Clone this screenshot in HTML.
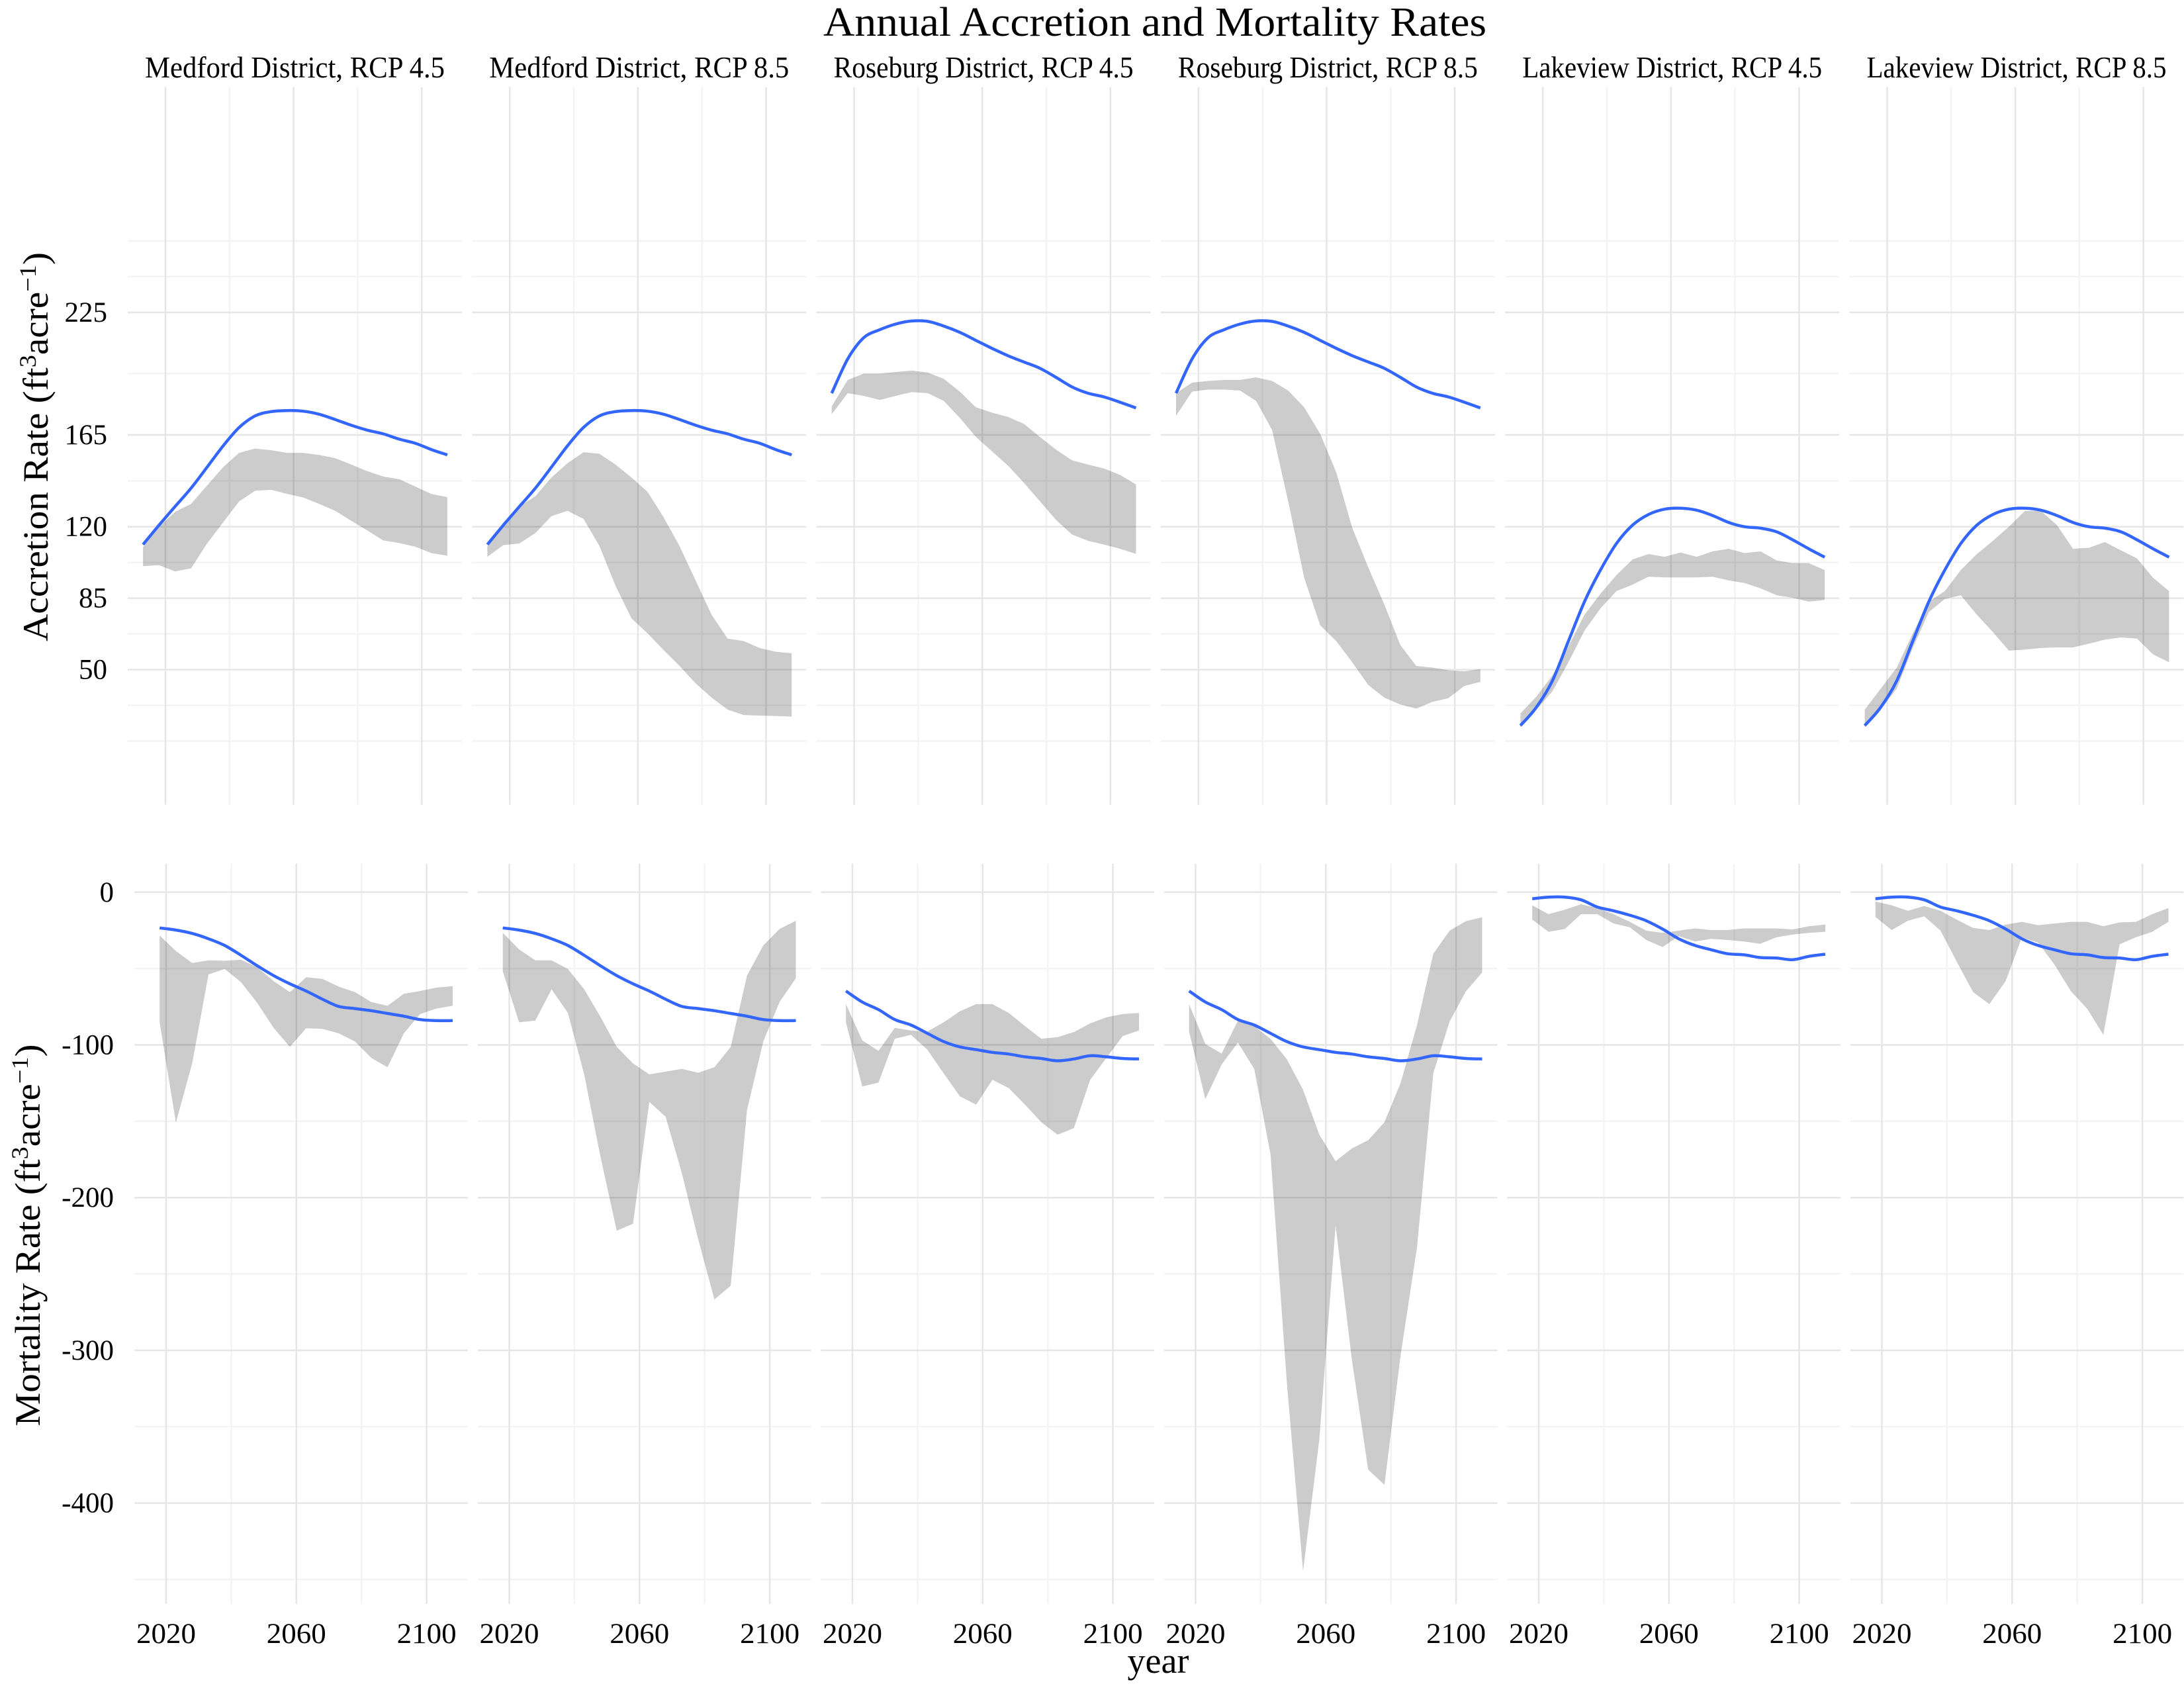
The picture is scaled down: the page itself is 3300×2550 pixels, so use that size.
<!DOCTYPE html>
<html><head><meta charset="utf-8">
<style>
html,body{margin:0;padding:0;background:#fff;}
svg{display:block;font-family:"Liberation Serif",serif;}
</style></head>
<body>
<svg id="chart" xmlns="http://www.w3.org/2000/svg" width="3300" height="2550" viewBox="0 0 3300 2550">
<rect x="0" y="0" width="3300" height="2550" fill="#fff"/>
<text x="1745" y="54" font-size="62" text-anchor="middle" textLength="1002" lengthAdjust="spacingAndGlyphs">Annual Accretion and Mortality Rates</text>
<text x="1750" y="2527" font-size="54" text-anchor="middle">year</text>
<text transform="translate(72,675) rotate(-90)" font-size="54" text-anchor="middle" textLength="588" lengthAdjust="spacingAndGlyphs">Accretion Rate  (ft<tspan font-size="36" dy="-18">3</tspan><tspan dy="18">acre</tspan><tspan font-size="36" dy="-18">−1</tspan><tspan dy="18">)</tspan></text>
<text transform="translate(60,1866) rotate(-90)" font-size="54" text-anchor="middle" textLength="577" lengthAdjust="spacingAndGlyphs">Mortality Rate  (ft<tspan font-size="36" dy="-18">3</tspan><tspan dy="18">acre</tspan><tspan font-size="36" dy="-18">−1</tspan><tspan dy="18">)</tspan></text>
<g id="plots"></g>
</svg>
<script>
const panelTitles = ["Medford District, RCP 4.5","Medford District, RCP 8.5","Roseburg District, RCP 4.5","Roseburg District, RCP 8.5","Lakeview District, RCP 4.5","Lakeview District, RCP 8.5"];
const accYears = [2013,2018,2023,2028,2033,2038,2043,2048,2053,2058,2063,2068,2073,2078,2083,2088,2093,2098,2103,2108];
const morYears = [2018,2023,2028,2033,2038,2043,2048,2053,2058,2063,2068,2073,2078,2083,2088,2093,2098,2103,2108];
const accTicks = [50,85,120,165,225];
const accMinor = [15,32.5,67.5,102.5,142.5,195,242.5,260];
const morTicks = [0,-100,-200,-300,-400];
const morMinor = [-50,-150,-250,-350,-450];
const yearTicks = [2020,2060,2100];
const yearMinor = [2040,2080];

const accUpper = [
[110,120,127.3,131.2,140.2,149.2,156.2,158.3,157.5,156.2,156.2,155.2,153.6,150.5,147.2,144.6,143.3,139.7,136.1,134.5],
[110.5,122.1,129.9,135,144.1,151.1,156.5,155.7,150.5,144.1,137.1,124.7,110.5,93.7,76.9,65.2,64,60.6,58.8,58],
[179,191.9,195,195,195.8,196.5,195.5,192.4,186.2,178.5,175.9,173.8,170.4,164,157.8,152.6,150.5,148.5,145.4,140.7],
[185.4,190.6,191.4,191.9,191.9,193.2,191.4,186.7,178.5,165.5,146.7,119.5,100.1,82,62.1,51.8,51,49.7,49.2,50.3],
[28.5,36.8,47.2,61.4,76.9,87.2,96.3,104,106.6,105.3,107.4,105.3,107.9,109.2,107.1,107.9,103.5,102.2,102.2,98.8],
[30.4,40.7,51,67.8,83.3,88.5,98.8,106.6,113.1,120,127.8,127.8,120.8,109.2,109.7,112.5,108.4,104.5,95,88.5]];
const accLower = [
[100.7,101.2,98.1,99.6,111.8,122.1,132.4,137.6,138.1,136.1,134.3,131.2,127.8,122.9,118.2,113.3,112,110.2,107.1,105.8],
[105.3,111,111.8,116.9,125.2,127.8,123.9,110.5,91.1,75.1,67.8,59.6,51.8,43.3,36.3,30.4,27.8,27.5,27.3,27],
[175.1,185.4,184.1,182.1,184.1,186,185.4,181.6,173.3,164,157,150,141.5,132.5,123.4,116.2,113.1,111.3,109.2,106.7],
[174.3,186.2,187.2,187.2,186.7,181.6,167.3,132.5,95,71.7,64,53.6,42.5,36.3,32.9,30.9,34.2,36,42,44],
[21.8,30.4,39.4,53.6,69.1,80,88.5,91.6,95.5,95.2,95.2,95.2,95.5,93.7,92.4,89.8,86.4,85.2,83.3,84.1],
[21.8,30.4,40.7,60.6,78.2,84.6,86.4,76.9,68.4,59.3,59.8,60.6,60.9,60.9,62.7,64.7,65.8,65.2,57.5,53.6]];
const accFitMedford = [111.3,120.8,129.9,138.9,149.2,159.6,168.6,174.3,176.4,176.9,176.6,175.1,172.5,169.7,167.3,165.5,162.9,160.9,157.8,155.2];
const accFitRoseburg = [185.4,202.2,212.6,216.5,219.3,220.8,220.6,218.3,215.2,211.3,207.4,203.8,200.7,197.6,193.2,188.5,185.4,183.6,181,178.2];
const accFitLakeview = [22.6,31.6,44.6,64,83.3,98.8,111.8,120.8,126,128.6,129.1,128.1,125.5,122.1,120,119.3,117.5,113.6,109.2,105.1];
const accFit = [accFitMedford,accFitMedford,accFitRoseburg,accFitRoseburg,accFitLakeview,accFitLakeview];

const morUpper = [
[-28.4,-38.5,-46.4,-44.6,-44.9,-44.2,-49.2,-58.2,-65.4,-55.7,-56.8,-61.8,-65.4,-71.9,-74.4,-66.5,-64.7,-62.5,-61.5],
[-26.6,-37.4,-44.6,-44.6,-50.3,-63.6,-81.6,-101.3,-112.1,-119.3,-117.5,-115.7,-118.2,-114.6,-101.3,-54.6,-34.9,-24.1,-18.7],
[-73.3,-97,-103.9,-88.8,-90.6,-91.3,-85.2,-78,-73.3,-73.3,-79.1,-87.7,-96,-94.9,-91.6,-85.9,-81.9,-79.8,-79.1],
[-73.3,-99.5,-105.7,-84.1,-87.7,-96,-109.3,-129.4,-158.8,-176.1,-167.8,-162.4,-150.6,-124.7,-87,-40.3,-25.2,-19,-16.4],
[-8.6,-14.4,-11.5,-7.9,-10.4,-14.4,-19.4,-25.2,-26.6,-25.2,-23.7,-24.8,-24.8,-23.7,-23.7,-23.7,-24.4,-22.3,-21.2],
[-6.1,-8.6,-12.2,-9,-12.2,-18,-23.4,-24.8,-21.2,-19.4,-21.6,-20.5,-19.4,-19.4,-22.3,-19.8,-19.4,-14.4,-10.4]];
const morLower = [
[-85.2,-150.9,-112.1,-53.9,-50.3,-58.9,-72.6,-88.8,-101.3,-89.1,-89.5,-92.4,-97.8,-108.5,-114.6,-92.4,-79.8,-76.2,-74.4],
[-51.8,-85.2,-84.1,-63.6,-79.1,-119.3,-173.2,-221.7,-217.1,-137.3,-147,-184,-227.1,-266.7,-257.7,-142.7,-97.8,-71.9,-56.4],
[-85.2,-127.2,-124.7,-96,-93.4,-103.1,-118.6,-133.7,-139.1,-122.9,-128.3,-139.1,-150.6,-158.8,-154.5,-122.9,-108.5,-94.2,-90.6],
[-91.3,-135.5,-112.8,-98.5,-115.7,-171.4,-320.6,-444.6,-358.3,-218.1,-306.2,-378.1,-388.1,-302.6,-232.5,-118.6,-84.7,-65,-52.6],
[-18,-25.9,-24.1,-14.4,-14.4,-20.5,-23,-31.3,-35.9,-28.8,-32.3,-30.5,-31.3,-32.3,-33.8,-29.5,-27.7,-26.6,-25.9],
[-16.2,-24.8,-18.7,-15.8,-25.2,-45.6,-65.4,-73.3,-58.2,-29.5,-33.1,-47.4,-64.7,-76.2,-93.4,-34.1,-29.5,-25.9,-19.4]];
const morFitMedford = [-23.4,-24.8,-27,-30.5,-34.9,-41.3,-48.2,-54.6,-60,-64.7,-70.1,-74.8,-76.2,-77.6,-79.4,-81.2,-83.4,-84.1,-84.1];
const morFitRoseburg = [-64.7,-71.9,-76.9,-83.4,-87,-92.4,-97.8,-101.3,-103.1,-104.9,-106,-107.8,-108.9,-110.4,-109.2,-107.1,-107.8,-108.9,-109.2];
const morFitLakeview = [-4.3,-3.2,-3.2,-5,-9.7,-12.2,-15.1,-18.7,-24.1,-30.5,-34.9,-37.7,-40.3,-41,-42.8,-43.1,-44.2,-42,-40.6];
const morFit = [morFitMedford,morFitMedford,morFitRoseburg,morFitRoseburg,morFitLakeview,morFitLakeview];

const NS = "http://www.w3.org/2000/svg";
const root = document.getElementById('plots');
function mk(tag, attrs, parent){const e=document.createElementNS(NS,tag);for(const k in attrs)e.setAttribute(k,attrs[k]);(parent||root).appendChild(e);return e;}

const topRow = {x0:193, pitch:520.3, w:505, x2020:250, pxYr:4.84, yTop:131.5, yBot:1215.7, yRef:50, yRefPx:1011.6, pxUnit:3.084};
const botRow = {x0:203.4, pitch:518.5, w:503.6, x2020:251, pxYr:4.92, yTop:1304.7, yBot:2423, yRef:0, yRefPx:1347.8, pxUnit:2.307};
function xs(row,k,yr){return row.x2020+row.pitch*k+(yr-2020)*row.pxYr;}
function ys(row,v){return row.yRefPx-(v-row.yRef)*row.pxUnit;}

function smoothPath(pts){
  let d='M'+pts[0][0].toFixed(1)+','+pts[0][1].toFixed(1);
  for(let i=0;i<pts.length-1;i++){
    const p0=pts[Math.max(0,i-1)],p1=pts[i],p2=pts[i+1],p3=pts[Math.min(pts.length-1,i+2)];
    const c1=[p1[0]+(p2[0]-p0[0])/6,p1[1]+(p2[1]-p0[1])/6];
    const c2=[p2[0]-(p3[0]-p1[0])/6,p2[1]-(p3[1]-p1[1])/6];
    d+=' C'+c1[0].toFixed(1)+','+c1[1].toFixed(1)+' '+c2[0].toFixed(1)+','+c2[1].toFixed(1)+' '+p2[0].toFixed(1)+','+p2[1].toFixed(1);
  }
  return d;
}

function drawRow(row, years, upper, lower, fit, major, minor, prefix, tickRight){
  for(let k=0;k<6;k++){
    const g=mk('g',{});
    
    
    const px0=row.x0+row.pitch*k, px1=px0+row.w;
    minor.forEach(v=>{const y=ys(row,v);const l=mk('line',{x1:px0,x2:px1,y1:y,y2:y,stroke:'#f4f4f4','stroke-width':2.5},g);
      
      });
    yearMinor.forEach(yr=>{const x=xs(row,k,yr);const l=mk('line',{x1:x,x2:x,y1:row.yTop,y2:row.yBot,stroke:'#f4f4f4','stroke-width':2.5},g);
      
      });
    major.forEach(v=>{const y=ys(row,v);const l=mk('line',{x1:px0,x2:px1,y1:y,y2:y,stroke:'#e6e6e6','stroke-width':2.5},g);
      
      });
    yearTicks.forEach(yr=>{const x=xs(row,k,yr);const l=mk('line',{x1:x,x2:x,y1:row.yTop,y2:row.yBot,stroke:'#e6e6e6','stroke-width':2.5},g);
      
      });
    const pts=[];
    years.forEach((yr,i)=>pts.push(xs(row,k,yr).toFixed(1)+','+ys(row,upper[k][i]).toFixed(1)));
    for(let i=years.length-1;i>=0;i--)pts.push(xs(row,k,years[i]).toFixed(1)+','+ys(row,lower[k][i]).toFixed(1));
    const band=mk('polygon',{points:pts.join(' '),fill:'#000','fill-opacity':0.2},g);
    
    
    const lp=years.map((yr,i)=>[xs(row,k,yr),ys(row,fit[k][i])]);
    const line=mk('path',{d:smoothPath(lp),fill:'none',stroke:'#3366FF','stroke-width':4.5},g);
    
    
  }
  major.forEach(v=>{const t=mk('text',{x:tickRight,y:ys(row,v)+14,'font-size':43,'text-anchor':'end'});
    
    
    t.textContent=String(v);});
}

drawRow(topRow, accYears, accUpper, accLower, accFit, accTicks, accMinor, 'accretion', 162);
drawRow(botRow, morYears, morUpper, morLower, morFit, morTicks, morMinor, 'mortality', 172);

panelTitles.forEach((s,k)=>{
  const t=mk('text',{x:topRow.x0+topRow.pitch*k+topRow.w/2,y:117,'font-size':46,'text-anchor':'middle',textLength:453,lengthAdjust:'spacingAndGlyphs'});
  
  
  t.textContent=s;
});
for(let k=0;k<6;k++){
  yearTicks.forEach(yr=>{
    const t=mk('text',{x:xs(botRow,k,yr),y:2482,'font-size':43,'text-anchor':'middle',textLength:90,lengthAdjust:'spacingAndGlyphs'});
    
    
    t.textContent=String(yr);
  });
}
</script>
</body></html>
